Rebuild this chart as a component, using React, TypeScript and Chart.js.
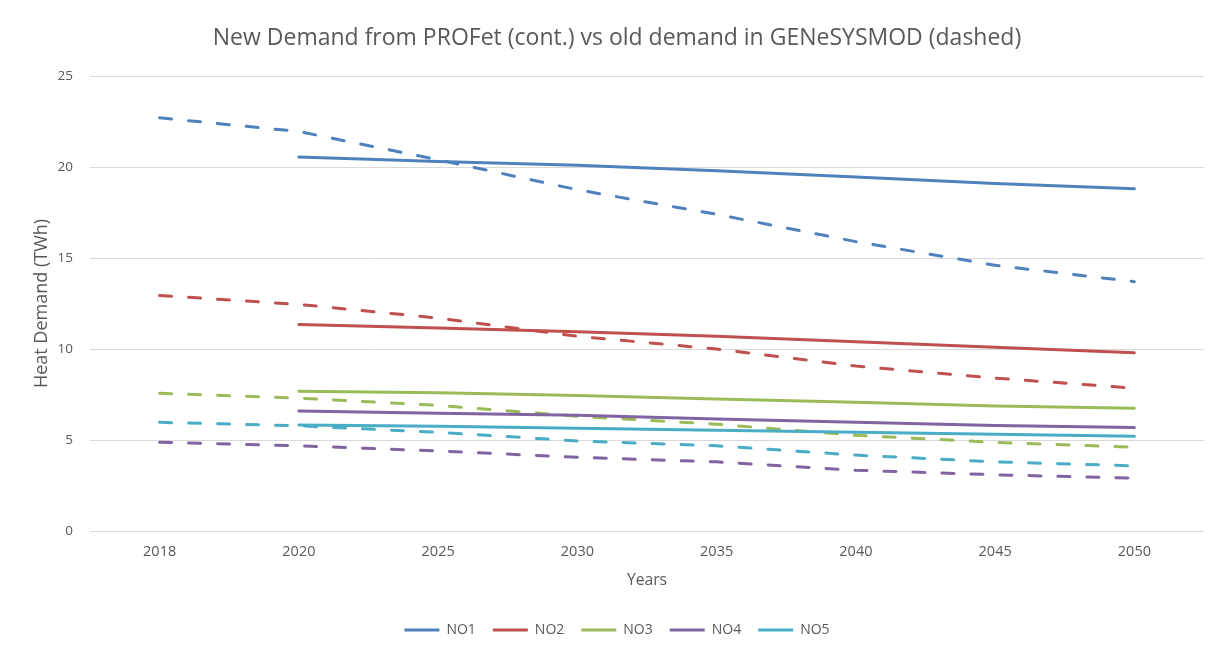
import { useEffect, useRef } from "react";
import { Chart, registerables } from "chart.js";

Chart.register(...registerables);

const years = ["2018", "2020", "2025", "2030", "2035", "2040", "2045", "2050"];
const regions = ["NO1", "NO2", "NO3", "NO4", "NO5"];
const colors = ["#4F81BD", "#C0504D", "#9BBB59", "#8064A2", "#4BACC6"];

// New demand from PROFet (solid)
const newNO1 = [null, 20.55, 20.3, 20.1, 19.8, 19.45, 19.1, 18.8];
const newNO2 = [null, 11.35, 11.15, 10.95, 10.7, 10.4, 10.1, 9.8];
const newNO3 = [null, 7.68, 7.6, 7.45, 7.25, 7.08, 6.87, 6.74];
const newNO4 = [null, 6.6, 6.47, 6.36, 6.15, 5.97, 5.8, 5.68];
const newNO5 = [null, 5.82, 5.75, 5.65, 5.54, 5.42, 5.32, 5.2];

// Old demand in GENeSYSMOD (dashed)
const oldNO1 = [22.7, 21.95, 20.4, 18.75, 17.4, 15.9, 14.6, 13.7];
const oldNO2 = [12.94, 12.45, 11.7, 10.7, 10.0, 9.06, 8.4, 7.85];
const oldNO3 = [7.57, 7.3, 6.9, 6.3, 5.87, 5.26, 4.87, 4.6];
const oldNO4 = [4.88, 4.68, 4.4, 4.05, 3.8, 3.34, 3.09, 2.9];
const oldNO5 = [5.97, 5.78, 5.42, 4.95, 4.68, 4.17, 3.8, 3.58];

const yTicks = [0, 5, 10, 15, 20, 25];

const FONT = "'Open Sans', Lato, sans-serif";
const TEXT = "#595959";

export default function App() {
  const ref = useRef<HTMLCanvasElement>(null);

  useEffect(() => {
    if (!ref.current) return;
    const solid = [newNO1, newNO2, newNO3, newNO4, newNO5];
    const dashed = [oldNO1, oldNO2, oldNO3, oldNO4, oldNO5];
    const common = {
      borderWidth: 3,
      pointRadius: 0,
      pointHoverRadius: 0,
      fill: false,
      tension: 0,
      spanGaps: false,
      borderCapStyle: "round" as const,
      borderJoinStyle: "round" as const,
    };
    const datasets: any[] = [
      ...regions.map((r, i) => ({
        ...common,
        label: r,
        data: solid[i],
        borderColor: colors[i],
        backgroundColor: colors[i],
      })),
      ...regions.map((r, i) => ({
        ...common,
        label: r + " (GENeSYSMOD)",
        data: dashed[i],
        borderColor: colors[i],
        backgroundColor: colors[i],
        borderDash: [12, 17],
      })),
    ];

    const chart = new Chart(ref.current, {
      type: "line",
      data: { labels: years, datasets },
      options: {
        responsive: false,
        animation: false,
        layout: { padding: { left: 22, right: 7, top: 0, bottom: 0 } },
        plugins: {
          title: {
            display: true,
            text: "New Demand from PROFet (cont.) vs old demand in GENeSYSMOD (dashed)",
            color: TEXT,
            font: { family: FONT, size: 23, weight: "normal" },
            padding: { top: 16.2, bottom: 24.2 },
          },
          legend: {
            display: true,
            position: "bottom",
            labels: {
              color: TEXT,
              font: { family: FONT, size: 14 },
              usePointStyle: true,
              pointStyle: "line",
              pointStyleWidth: 35,
              padding: 17,
              filter: (item: any) => item.datasetIndex < 5,
            },
          },
          tooltip: { enabled: false },
        },
        scales: {
          x: {
            type: "category",
            offset: true,
            grid: { display: false, drawTicks: false },
            border: { display: false },
            ticks: {
              color: TEXT,
              font: { family: FONT, size: 14.5 },
              padding: 12.3,
              maxRotation: 0,
              autoSkip: false,
            },
            title: {
              display: true,
              text: "Years",
              color: TEXT,
              font: { family: FONT, size: 15.7 },
              padding: { top: 0, bottom: 15.6 },
            },
            afterFit: (s: any) => {
              s.height = 75;
            },
          },
          y: {
            min: 0,
            max: 25,
            afterBuildTicks: (s: any) => {
              s.ticks = yTicks.map((v) => ({ value: v }));
            },
            grid: { color: "#D9D9D9", lineWidth: 1, drawTicks: false },
            border: { display: false },
            ticks: {
              color: TEXT,
              font: { family: FONT, size: 13.5 },
              padding: 17,
            },
            title: {
              display: true,
              text: "Heat Demand (TWh)",
              color: TEXT,
              font: { family: FONT, size: 18 },
              padding: { top: 1.2, bottom: 0 },
            },
            afterFit: (s: any) => {
              s.width = 60;
            },
          },
        },
      },
    });
    return () => chart.destroy();
  }, []);

  return (
    <div
      style={{
        marginLeft: -1,
        marginTop: -1,
        borderLeft: "1px solid #D9D9D9",
        borderTop: "1px solid #D9D9D9",
        width: 1204,
        height: 640,
      }}
    >
      <canvas ref={ref} width={1203} height={639} style={{ display: "block" }} />
    </div>
  );
}
